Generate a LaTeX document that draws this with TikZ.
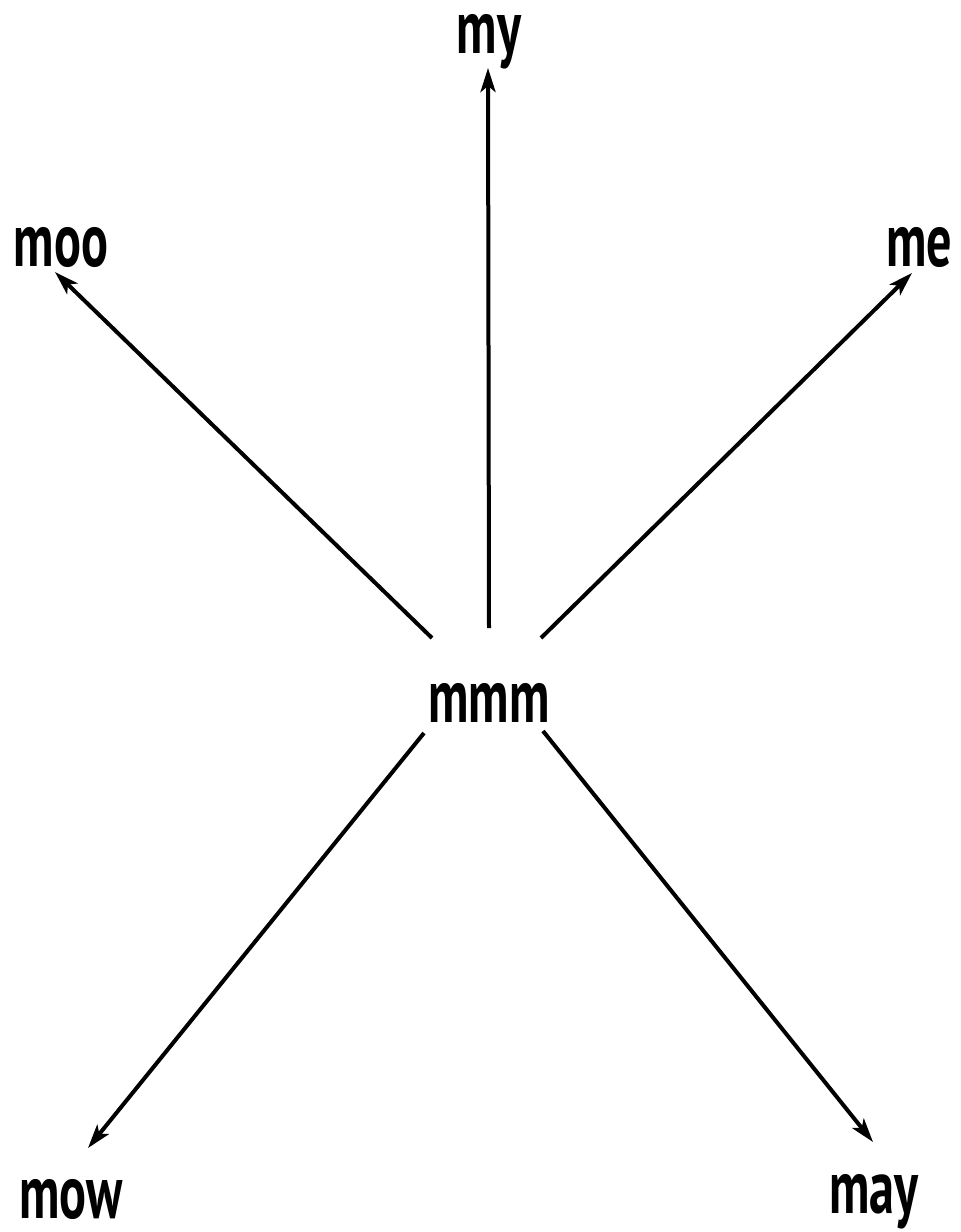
\documentclass[tikz,border=0pt]{standalone}
\usepackage{fontspec}
\setmainfont{PT Sans}[FakeStretch=0.66]
\usetikzlibrary{arrows.meta}
\begin{document}
\begin{tikzpicture}[x=0.5pt,y=-0.5pt,
  lbl/.style={font=\fontsize{38}{40}\selectfont\bfseries, inner sep=0pt, anchor=base},
  arr/.style={line width=2pt, -{Stealth[length=12pt,width=7.5pt,inset=3pt]}}]
\useasboundingbox (0,0) rectangle (960,1232);
\node[lbl] (mmm) at (489,722) {mmm};
\node[lbl] (my) at (489,53) {my};
\node[lbl] (moo) at (61,266) {moo};
\node[lbl] (me) at (919,266) {me};
\node[lbl] (mow) at (71,1218) {mow};
\node[lbl] (may) at (874,1213) {may};
\coordinate (s1) at (489,628);
\coordinate (e1) at (488,68);
\coordinate (s2) at (432,638);
\coordinate (e2) at (55,272);
\coordinate (s3) at (541,638);
\coordinate (e3) at (912,273);
\coordinate (s4) at (424,733);
\coordinate (e4) at (88,1148);
\coordinate (s5) at (543,731);
\coordinate (e5) at (873,1142);
\draw[arr] (s1) -- (e1);
\draw[arr] (s2) -- (e2);
\draw[arr] (s3) -- (e3);
\draw[arr] (s4) -- (e4);
\draw[arr] (s5) -- (e5);
\end{tikzpicture}
\end{document}
